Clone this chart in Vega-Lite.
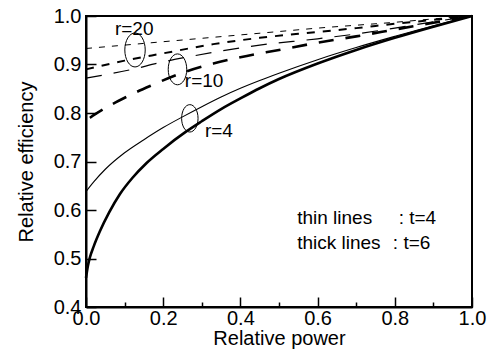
{
  "$schema": "https://vega.github.io/schema/vega-lite/v6.json",
  "width": 386,
  "height": 291,
  "autosize": "none",
  "padding": {"left": 86, "top": 16, "right": 17, "bottom": 51},
  "background": "white",
  "config": {
    "font": "Liberation Sans",
    "view": {"stroke": "black", "strokeWidth": 2},
    "axis": {"domainColor": "black", "domainWidth": 2, "tickColor": "black", "tickWidth": 1.5, "labelColor": "black", "titleColor": "black", "labelFont": "Liberation Sans", "titleFont": "Liberation Sans", "titleFontWeight": "normal", "grid": false}
  },
  "datasets": {
    "curves": [
      {"series": "r4t4", "x": 0, "y": 0.638}, {"series": "r4t4", "x": 0.02, "y": 0.658}, {"series": "r4t4", "x": 0.05, "y": 0.684}, {"series": "r4t4", "x": 0.1, "y": 0.718}, {"series": "r4t4", "x": 0.15, "y": 0.745}, {"series": "r4t4", "x": 0.2, "y": 0.77}, {"series": "r4t4", "x": 0.25, "y": 0.792}, {"series": "r4t4", "x": 0.3, "y": 0.813}, {"series": "r4t4", "x": 0.35, "y": 0.833}, {"series": "r4t4", "x": 0.4, "y": 0.851}, {"series": "r4t4", "x": 0.45, "y": 0.867}, {"series": "r4t4", "x": 0.5, "y": 0.882}, {"series": "r4t4", "x": 0.6, "y": 0.91}, {"series": "r4t4", "x": 0.7, "y": 0.935}, {"series": "r4t4", "x": 0.8, "y": 0.958}, {"series": "r4t4", "x": 0.9, "y": 0.98}, {"series": "r4t4", "x": 1.0, "y": 1.0},
      {"series": "r4t6", "x": 0, "y": 0.46}, {"series": "r4t6", "x": 0.005, "y": 0.485}, {"series": "r4t6", "x": 0.01, "y": 0.502}, {"series": "r4t6", "x": 0.02, "y": 0.525}, {"series": "r4t6", "x": 0.036, "y": 0.556}, {"series": "r4t6", "x": 0.06, "y": 0.595}, {"series": "r4t6", "x": 0.088, "y": 0.633}, {"series": "r4t6", "x": 0.12, "y": 0.666}, {"series": "r4t6", "x": 0.157, "y": 0.697}, {"series": "r4t6", "x": 0.2, "y": 0.726}, {"series": "r4t6", "x": 0.26, "y": 0.762}, {"series": "r4t6", "x": 0.3, "y": 0.783}, {"series": "r4t6", "x": 0.35, "y": 0.808}, {"series": "r4t6", "x": 0.4, "y": 0.83}, {"series": "r4t6", "x": 0.45, "y": 0.851}, {"series": "r4t6", "x": 0.5, "y": 0.87}, {"series": "r4t6", "x": 0.6, "y": 0.902}, {"series": "r4t6", "x": 0.7, "y": 0.93}, {"series": "r4t6", "x": 0.8, "y": 0.955}, {"series": "r4t6", "x": 0.9, "y": 0.978}, {"series": "r4t6", "x": 1.0, "y": 1.0},
      {"series": "r10t4", "x": 0, "y": 0.872}, {"series": "r10t4", "x": 0.12, "y": 0.89}, {"series": "r10t4", "x": 0.187, "y": 0.903}, {"series": "r10t4", "x": 0.33, "y": 0.925}, {"series": "r10t4", "x": 0.45, "y": 0.94}, {"series": "r10t4", "x": 0.6, "y": 0.953}, {"series": "r10t4", "x": 0.7, "y": 0.963}, {"series": "r10t4", "x": 0.8, "y": 0.975}, {"series": "r10t4", "x": 0.9, "y": 0.988}, {"series": "r10t4", "x": 1.0, "y": 1.0},
      {"series": "r10t6", "x": 0.01, "y": 0.79}, {"series": "r10t6", "x": 0.023, "y": 0.797}, {"series": "r10t6", "x": 0.104, "y": 0.833}, {"series": "r10t6", "x": 0.17, "y": 0.857}, {"series": "r10t6", "x": 0.24, "y": 0.88}, {"series": "r10t6", "x": 0.33, "y": 0.902}, {"series": "r10t6", "x": 0.4, "y": 0.915}, {"series": "r10t6", "x": 0.5, "y": 0.93}, {"series": "r10t6", "x": 0.6, "y": 0.945}, {"series": "r10t6", "x": 0.7, "y": 0.958}, {"series": "r10t6", "x": 0.8, "y": 0.972}, {"series": "r10t6", "x": 0.9, "y": 0.986}, {"series": "r10t6", "x": 1.0, "y": 1.0},
      {"series": "r20t4", "x": 0, "y": 0.933}, {"series": "r20t4", "x": 0.1, "y": 0.94}, {"series": "r20t4", "x": 0.2, "y": 0.947}, {"series": "r20t4", "x": 0.3, "y": 0.954}, {"series": "r20t4", "x": 0.4, "y": 0.961}, {"series": "r20t4", "x": 0.5, "y": 0.968}, {"series": "r20t4", "x": 0.6, "y": 0.975}, {"series": "r20t4", "x": 0.7, "y": 0.981}, {"series": "r20t4", "x": 0.8, "y": 0.987}, {"series": "r20t4", "x": 0.9, "y": 0.994}, {"series": "r20t4", "x": 1.0, "y": 1.0},
      {"series": "r20t6", "x": 0, "y": 0.89}, {"series": "r20t6", "x": 0.1, "y": 0.908}, {"series": "r20t6", "x": 0.2, "y": 0.923}, {"series": "r20t6", "x": 0.33, "y": 0.942}, {"series": "r20t6", "x": 0.45, "y": 0.955}, {"series": "r20t6", "x": 0.6, "y": 0.967}, {"series": "r20t6", "x": 0.7, "y": 0.975}, {"series": "r20t6", "x": 0.8, "y": 0.984}, {"series": "r20t6", "x": 0.9, "y": 0.992}, {"series": "r20t6", "x": 1.0, "y": 1.0}
    ],
    "rings": [
      {"label": "r=20", "x": 0.127, "y": 0.93},
      {"label": "r=10", "x": 0.237, "y": 0.89},
      {"label": "r=4", "x": 0.269, "y": 0.789}
    ],
    "tags": [
      {"text": "r=20", "x": 0.075, "y": 0.974},
      {"text": "r=10", "x": 0.256, "y": 0.865},
      {"text": "r=4", "x": 0.308, "y": 0.762},
      {"text": "thin lines", "x": 0.547, "y": 0.583},
      {"text": "thick lines", "x": 0.547, "y": 0.532},
      {"text": ": t=4", "x": 0.81, "y": 0.583},
      {"text": ": t=6", "x": 0.795, "y": 0.532}
    ]
  },
  "encoding": {
    "x": {"field": "x", "type": "quantitative", "scale": {"domain": [0, 1], "nice": false, "zero": false},
      "axis": {"title": "Relative power", "values": [0, 0.1, 0.2, 0.3, 0.4, 0.5, 0.6, 0.7, 0.8, 0.9, 1.0],
        "labelExpr": "round(datum.value*10)%2==0 ? format(datum.value,'.1f') : ''",
        "tickSize": {"condition": {"test": "round(datum.value*10)%2==1", "value": -5}, "value": -10},
        "labelPadding": 11, "labelFontSize": 20, "titleFontSize": 20, "titlePadding": 0, "labelFlush": false}},
    "y": {"field": "y", "type": "quantitative", "scale": {"domain": [0.4, 1], "nice": false, "zero": false},
      "axis": {"title": "Relative efficiency", "values": [0.4, 0.5, 0.6, 0.7, 0.8, 0.9, 1.0], "format": ".1f",
        "tickSize": -10, "labelPadding": 15, "labelFontSize": 20, "titleFontSize": 20, "titlePadding": 17, "labelFlush": false}}
  },
  "layer": [
    {
      "data": {"name": "curves"},
      "transform": [{"filter": "datum.series == 'r4t4'"}],
      "mark": {"type": "line", "color": "black", "interpolate": "monotone", "strokeWidth": 1.1}
    },
    {
      "data": {"name": "curves"},
      "transform": [{"filter": "datum.series == 'r4t6'"}],
      "mark": {"type": "line", "color": "black", "interpolate": "monotone", "strokeWidth": 2.6}
    },
    {
      "data": {"name": "curves"},
      "transform": [{"filter": "datum.series == 'r10t4'"}],
      "mark": {"type": "line", "color": "black", "interpolate": "monotone", "strokeWidth": 1.2, "strokeDash": [16, 12]}
    },
    {
      "data": {"name": "curves"},
      "transform": [{"filter": "datum.series == 'r10t6'"}],
      "mark": {"type": "line", "color": "black", "interpolate": "monotone", "strokeWidth": 2.6, "strokeDash": [15, 12]}
    },
    {
      "data": {"name": "curves"},
      "transform": [{"filter": "datum.series == 'r20t4'"}],
      "mark": {"type": "line", "color": "black", "interpolate": "monotone", "strokeWidth": 1, "strokeDash": [6, 7]}
    },
    {
      "data": {"name": "curves"},
      "transform": [{"filter": "datum.series == 'r20t6'"}],
      "mark": {"type": "line", "color": "black", "interpolate": "monotone", "strokeWidth": 2, "strokeDash": [8, 8]}
    },
    {
      "data": {"name": "rings"},
      "mark": {"type": "point", "filled": false, "color": "black", "strokeWidth": 1, "opacity": 1, "shape": "M0,-1A0.6,1,0,1,1,0,1A0.6,1,0,1,1,0,-1Z"},
      "encoding": {
        "size": {"field": "label", "type": "nominal", "legend": null,
          "scale": {"domain": ["r=20", "r=10", "r=4"], "range": [1156, 750, 1089]}}
      }
    },
    {
      "data": {"name": "tags"},
      "mark": {"type": "text", "align": "left", "baseline": "middle", "fontSize": 19, "color": "black", "font": "Liberation Sans"},
      "encoding": {"text": {"field": "text", "type": "nominal"}}
    }
  ]
}
